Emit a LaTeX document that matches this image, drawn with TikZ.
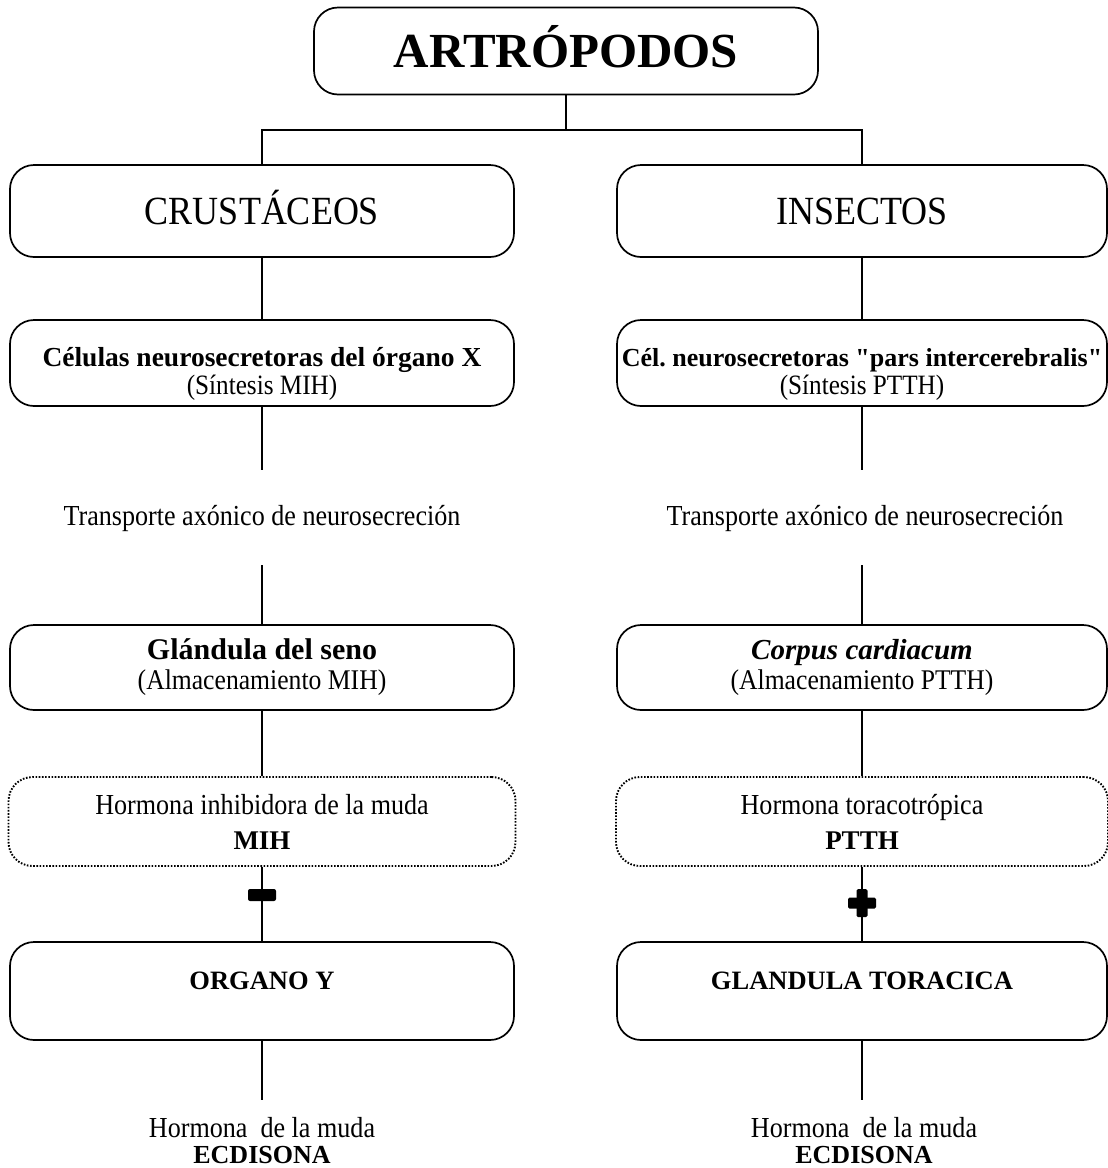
\documentclass[tikz,border=0pt]{standalone}
\usepackage{fontspec}
\setmainfont{Liberation Serif}
\newfontfamily\cond[FakeStretch=0.9]{Liberation Serif}
\newfontfamily\plainq[Ligatures=TeXOff]{Liberation Serif}
\begin{document}
\begin{tikzpicture}[x=1pt,y=-1pt,
  box/.style={draw, line width=1.7pt, rounded corners=24pt, minimum width=504pt, align=center, inner sep=0pt},
  dotbox/.style={box, line width=1.9pt, dash pattern=on 1.6pt off 1.6pt},
  conn/.style={line width=1.7pt},
  txt/.style={align=center, inner sep=0pt}]
\useasboundingbox (0,0) rectangle (1108,1168);

% top
\node[box, minimum height=87pt, text height=32pt, text depth=0pt] (arth) at (566,51) {\fontsize{49}{55}\selectfont\bfseries ARTRÓPODOS};
\coordinate (bar) at (566,130);

% left column
\node[box, minimum height=92pt, text height=26.5pt, text depth=0pt] (crus) at (262,211) {\cond\fontsize{40}{46}\selectfont CRUSTÁCEOS};
\node[box, minimum height=86pt, font=\fontsize{28}{28}\selectfont] (celL) at (262,363)
  {\rule{0pt}{40pt}{\bfseries\fontsize{27.5}{28}\selectfont Células neurosecretoras del órgano X}\\{\cond\fontsize{28}{28}\selectfont (Síntesis MIH)}};
\node[txt] (trL) at (262,518) {\cond\fontsize{29}{32}\selectfont Transporte axónico de neurosecreción};
\coordinate (trLa) at (262,470);
\coordinate (trLb) at (262,565);
\node[box, minimum height=85pt, font=\fontsize{28}{30}\selectfont] (glL) at (262,667.5)
  {{\bfseries\fontsize{30}{30}\selectfont Glándula del seno}\\{\cond\fontsize{28.5}{30}\selectfont (Almacenamiento MIH)}};
\node[dotbox, minimum width=507pt, minimum height=89pt, font=\fontsize{28}{35}\selectfont] (hoL) at (262,821.5)
  {{\cond\fontsize{29}{35}\selectfont Hormona inhibidora de la muda}\\{\bfseries\fontsize{27}{35}\selectfont MIH}};
\node[box, minimum height=98pt, text height=17.5pt, text depth=20pt] (orL) at (262,991) {\bfseries\fontsize{26.5}{30}\selectfont ORGANO Y};
\coordinate (enL) at (262,1100);
\node[txt, anchor=north, font=\fontsize{28}{26}\selectfont] (ecL) at (262,1117)
  {{\cond\fontsize{29}{26}\selectfont Hormona\ \ de la muda}\\{\bfseries\fontsize{26}{26}\selectfont ECDISONA}};

% right column
\node[box, minimum width=490pt, minimum height=92pt, text height=26.5pt, text depth=0pt] (ins) at (862,211) {\cond\fontsize{40}{46}\selectfont INSECTOS};
\node[box, minimum width=490pt, minimum height=86pt, font=\fontsize{28}{28}\selectfont] (celR) at (862,363)
  {\rule{0pt}{40pt}{\bfseries\fontsize{26}{28}\selectfont Cél.\ neurosecretoras {\plainq"}pars intercerebralis{\plainq"}}\\{\cond\fontsize{28}{28}\selectfont (Síntesis PTTH)}};
\node[txt] (trR) at (865,518) {\cond\fontsize{29}{32}\selectfont Transporte axónico de neurosecreción};
\coordinate (trRa) at (862,470);
\coordinate (trRb) at (862,565);
\node[box, minimum width=490pt, minimum height=85pt, font=\fontsize{28}{30}\selectfont] (glR) at (862,667.5)
  {{\bfseries\itshape\fontsize{29}{30}\selectfont Corpus cardiacum}\\{\cond\fontsize{28.5}{30}\selectfont (Almacenamiento PTTH)}};
\node[dotbox, minimum width=492pt, minimum height=89pt, font=\fontsize{28}{35}\selectfont] (hoR) at (862,821.5)
  {{\cond\fontsize{29}{35}\selectfont Hormona toracotrópica}\\{\bfseries\fontsize{27}{35}\selectfont PTTH}};
\node[box, minimum width=490pt, minimum height=98pt, text height=17.5pt, text depth=20pt] (orR) at (862,991) {\bfseries\fontsize{26.5}{30}\selectfont GLANDULA TORACICA};
\coordinate (enR) at (862,1100);
\node[txt, anchor=north, font=\fontsize{28}{26}\selectfont] (ecR) at (864,1117)
  {{\cond\fontsize{29}{26}\selectfont Hormona\ \ de la muda}\\{\bfseries\fontsize{26}{26}\selectfont ECDISONA}};

% connectors
\draw[conn] (arth.south) -- (bar);
\draw[conn] (crus.north) |- (bar) -| (ins.north);
\draw[conn] (crus) -- (celL);
\draw[conn] (ins) -- (celR);
\draw[conn] (celL.south) -- (trLa);
\draw[conn] (trLb) -- (glL.north);
\draw[conn] (celR.south) -- (trRa);
\draw[conn] (trRb) -- (glR.north);
\draw[conn] (glL) -- (hoL);
\draw[conn] (glR) -- (hoR);
\draw[conn] (hoL) -- (orL);
\draw[conn] (hoR) -- (orR);
\draw[conn] (orL.south) -- (enL);
\draw[conn] (orR.south) -- (enR);

% minus / plus markers
\node[fill=black, rounded corners=2pt, minimum width=28pt, minimum height=12pt, inner sep=0pt] (minus) at (262,895) {};
\node[fill=black, rounded corners=1.5pt, minimum width=28pt, minimum height=11pt, inner sep=0pt] (plusH) at (862,903) {};
\node[fill=black, rounded corners=1.5pt, minimum width=11pt, minimum height=28pt, inner sep=0pt] (plusV) at (862,903) {};
\end{tikzpicture}
\end{document}
